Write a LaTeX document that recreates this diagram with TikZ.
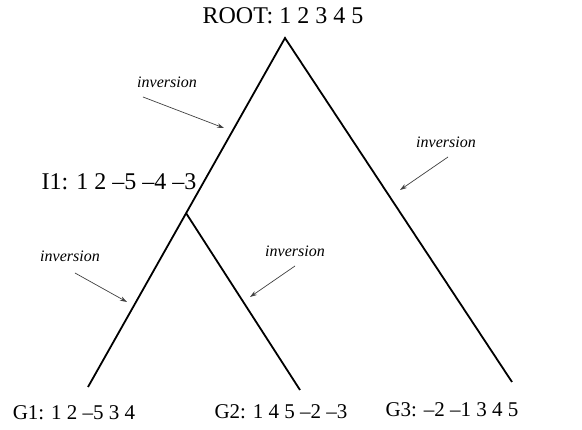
\documentclass[tikz,border=0pt]{standalone}
\usepackage{fontspec}
\setmainfont{Liberation Serif}
\usetikzlibrary{arrows.meta}
\begin{document}
\begin{tikzpicture}[x=1pt,y=-1pt,
  branch/.style={line width=1.8pt},
  lab/.style={inner sep=0pt,font=\fontsize{21}{24}\selectfont},
  biglab/.style={inner sep=0pt,font=\fontsize{24}{28}\selectfont},
  inv/.style={inner sep=0pt,font=\fontsize{16}{19}\selectfont\itshape},
  invarrow/.style={draw=black!75,line width=0.7pt,-{Stealth[length=7pt,width=4.5pt]}}]
\useasboundingbox (0,0) rectangle (582,430);
% tree points
\coordinate (apex) at (285,38);
\coordinate (junc) at (186,213);
\coordinate (g1end) at (88,387);
\coordinate (g2end) at (300,390);
\coordinate (g3end) at (512,382);
\draw[branch] (g1end) -- (apex) -- (g3end);
\draw[branch] (junc) -- (g2end);
% labels
\node[biglab] (root) at (283,16) {ROOT: 1 2 3 4 5};
\node[biglab] (i1) at (119,182) {I1: 1 2 –5 –4 –3};
\node[lab] (g1) at (74,413) {G1: 1 2 –5 3 4};
\node[lab] (g2) at (281,412) {G2: 1 4 5 –2 –3};
\node[lab] (g3) at (452,410) {G3: –2 –1 3 4 5};
% inversion annotations
\node[inv] (inva) at (167,82) {inversion};
\coordinate (inva1) at (143,97);
\coordinate (inva2) at (224,128);
\draw[invarrow] (inva1) -- (inva2);
\node[inv] (invb) at (446,142) {inversion};
\coordinate (invb1) at (448,157);
\coordinate (invb2) at (400,190);
\draw[invarrow] (invb1) -- (invb2);
\node[inv] (invc) at (70,256) {inversion};
\coordinate (invc1) at (75,273);
\coordinate (invc2) at (127,302);
\draw[invarrow] (invc1) -- (invc2);
\node[inv] (invd) at (295,251) {inversion};
\coordinate (invd1) at (295,266);
\coordinate (invd2) at (250,297);
\draw[invarrow] (invd1) -- (invd2);
\end{tikzpicture}
\end{document}
